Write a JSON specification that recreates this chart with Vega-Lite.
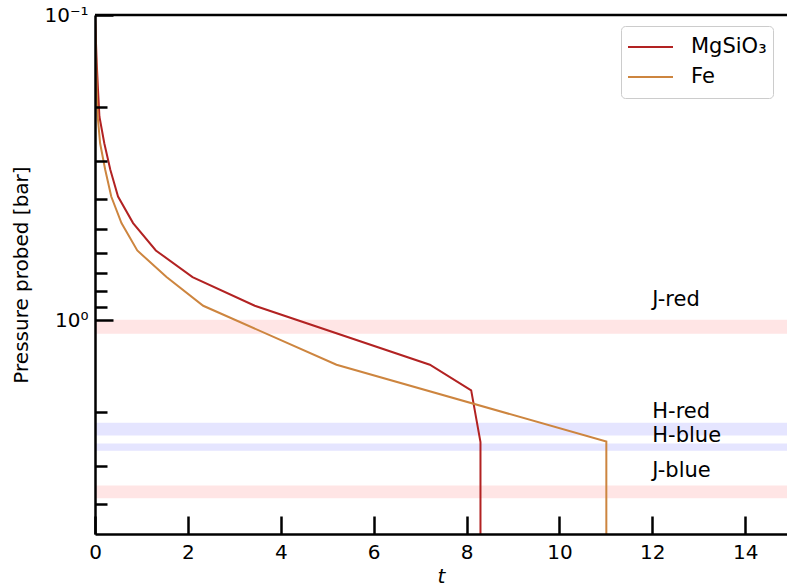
{
  "$schema": "https://vega.github.io/schema/vega-lite/v6.json",
  "width": 692,
  "height": 519,
  "autosize": {"type": "none"},
  "padding": {"left": 95, "top": 15, "right": 0, "bottom": 52},
  "config": {
    "font": "DejaVu Sans",
    "view": {"stroke": null},
    "legend": {
      "orient": "none",
      "legendX": 526,
      "legendY": 11,
      "symbolType": "stroke",
      "symbolStrokeWidth": 2,
      "symbolSize": 2025,
      "clipHeight": 30,
      "labelFontSize": 21,
      "labelColor": "black",
      "strokeColor": "#cccccc",
      "fillColor": "white",
      "cornerRadius": 4,
      "padding": 6,
      "labelOffset": 17,
      "rowPadding": 0
    }
  },
  "datasets": {
    "lines": [
      {"series": "MgSiO₃", "t": 0, "p": 0.1},
      {"series": "MgSiO₃", "t": 0.037, "p": 0.1436},
      {"series": "MgSiO₃", "t": 0.065, "p": 0.176},
      {"series": "MgSiO₃", "t": 0.095, "p": 0.215},
      {"series": "MgSiO₃", "t": 0.2, "p": 0.263},
      {"series": "MgSiO₃", "t": 0.33, "p": 0.321},
      {"series": "MgSiO₃", "t": 0.496, "p": 0.393},
      {"series": "MgSiO₃", "t": 0.82, "p": 0.48},
      {"series": "MgSiO₃", "t": 1.31, "p": 0.59},
      {"series": "MgSiO₃", "t": 2.1, "p": 0.721},
      {"series": "MgSiO₃", "t": 3.44, "p": 0.895},
      {"series": "MgSiO₃", "t": 7.21, "p": 1.396},
      {"series": "MgSiO₃", "t": 8.1, "p": 1.694},
      {"series": "MgSiO₃", "t": 8.3, "p": 2.5},
      {"series": "MgSiO₃", "t": 8.3, "p": 5},
      {"series": "Fe", "t": 0, "p": 0.1},
      {"series": "Fe", "t": 0.026, "p": 0.1436},
      {"series": "Fe", "t": 0.037, "p": 0.176},
      {"series": "Fe", "t": 0.058, "p": 0.215},
      {"series": "Fe", "t": 0.11, "p": 0.263},
      {"series": "Fe", "t": 0.22, "p": 0.321},
      {"series": "Fe", "t": 0.35, "p": 0.393},
      {"series": "Fe", "t": 0.57, "p": 0.48},
      {"series": "Fe", "t": 0.91, "p": 0.59},
      {"series": "Fe", "t": 1.54, "p": 0.721},
      {"series": "Fe", "t": 2.33, "p": 0.895},
      {"series": "Fe", "t": 5.2, "p": 1.396},
      {"series": "Fe", "t": 11.01, "p": 2.49},
      {"series": "Fe", "t": 11.01, "p": 5}
    ],
    "bands": [
      {"band": "J-red", "kind": "J", "p": 0.995, "p2": 1.105},
      {"band": "H-red", "kind": "H", "p": 2.16, "p2": 2.38},
      {"band": "H-blue", "kind": "H", "p": 2.53, "p2": 2.67},
      {"band": "J-blue", "kind": "J", "p": 3.47, "p2": 3.82}
    ],
    "labels": [
      {"label": "J-red", "t": 12, "p": 0.895},
      {"label": "H-red", "t": 12, "p": 2.09},
      {"label": "H-blue", "t": 12, "p": 2.5},
      {"label": "J-blue", "t": 12, "p": 3.25}
    ],
    "frame": [
      {"edge": "top"}
    ]
  },
  "layer": [
    {
      "data": {"name": "bands"},
      "mark": {"type": "rect"},
      "encoding": {
        "x": {"datum": 0, "type": "quantitative", "scale": {"domain": [0, 14.9], "nice": false, "zero": false}},
        "x2": {"datum": 14.9},
        "y": {"field": "p", "type": "quantitative", "scale": {"type": "log", "domain": [0.1, 5], "reverse": true, "nice": false}},
        "y2": {"field": "p2"},
        "fill": {"field": "kind", "type": "nominal", "scale": {"domain": ["J", "H"], "range": ["#ffe5e5", "#e5e5ff"]}, "legend": null}
      }
    },
    {
      "data": {"name": "lines"},
      "mark": {"type": "line", "strokeWidth": 2, "clip": true},
      "encoding": {
        "x": {
          "field": "t", "type": "quantitative",
          "scale": {"domain": [0, 14.9], "nice": false, "zero": false},
          "axis": {
            "values": [0, 2, 4, 6, 8, 10, 12, 14],
            "tickSize": -18, "tickWidth": 2.5, "tickColor": "black",
            "domainColor": "black", "domainWidth": 2.5,
            "labelFontSize": 20, "labelColor": "black", "labelPadding": 26,
            "labelFlush": false, "labelOverlap": false, "grid": false,
            "title": "t", "titleFontStyle": "italic", "titleFontWeight": "normal",
            "titleFontSize": 20, "titleColor": "black", "titlePadding": 4,
            "zindex": 1
          }
        },
        "y": {
          "field": "p", "type": "quantitative",
          "scale": {"type": "log", "domain": [0.1, 5], "reverse": true, "nice": false},
          "axis": {
            "values": [0.1, 0.2, 0.3, 0.4, 0.5, 0.6, 0.7, 0.8, 0.9, 1, 2, 3, 4],
            "labelExpr": "datum.value === 0.1 ? '10⁻¹' : (datum.value === 1 ? '10⁰' : '')",
            "tickSize": {"condition": {"test": "datum.value === 0.1 || datum.value === 1", "value": -18}, "value": -12},
            "tickWidth": 2.5, "tickColor": "black",
            "domainColor": "black", "domainWidth": 2.5,
            "labelFontSize": 20, "labelColor": "black", "labelPadding": 25,
            "labelFlush": false, "labelOverlap": false, "grid": false,
            "title": "Pressure probed [bar]", "titleFontWeight": "normal",
            "titleFontSize": 20, "titleColor": "black", "titlePadding": 12,
            "zindex": 1
          }
        },
        "color": {
          "field": "series", "type": "nominal",
          "scale": {"domain": ["MgSiO₃", "Fe"], "range": ["#b22222", "#cd853f"]},
          "legend": {"title": null}
        },
        "order": {"field": "p"}
      }
    },
    {
      "data": {"name": "labels"},
      "mark": {"type": "text", "align": "left", "baseline": "alphabetic", "fontSize": 21, "color": "black"},
      "encoding": {
        "x": {"field": "t", "type": "quantitative"},
        "y": {"field": "p", "type": "quantitative"},
        "text": {"field": "label"}
      }
    },
    {
      "data": {"name": "frame"},
      "mark": {"type": "rule", "color": "black", "strokeWidth": 2.5},
      "encoding": {
        "y": {"datum": 0.1, "type": "quantitative"},
        "x": {"datum": 0, "type": "quantitative"},
        "x2": {"datum": 14.9}
      }
    }
  ]
}
